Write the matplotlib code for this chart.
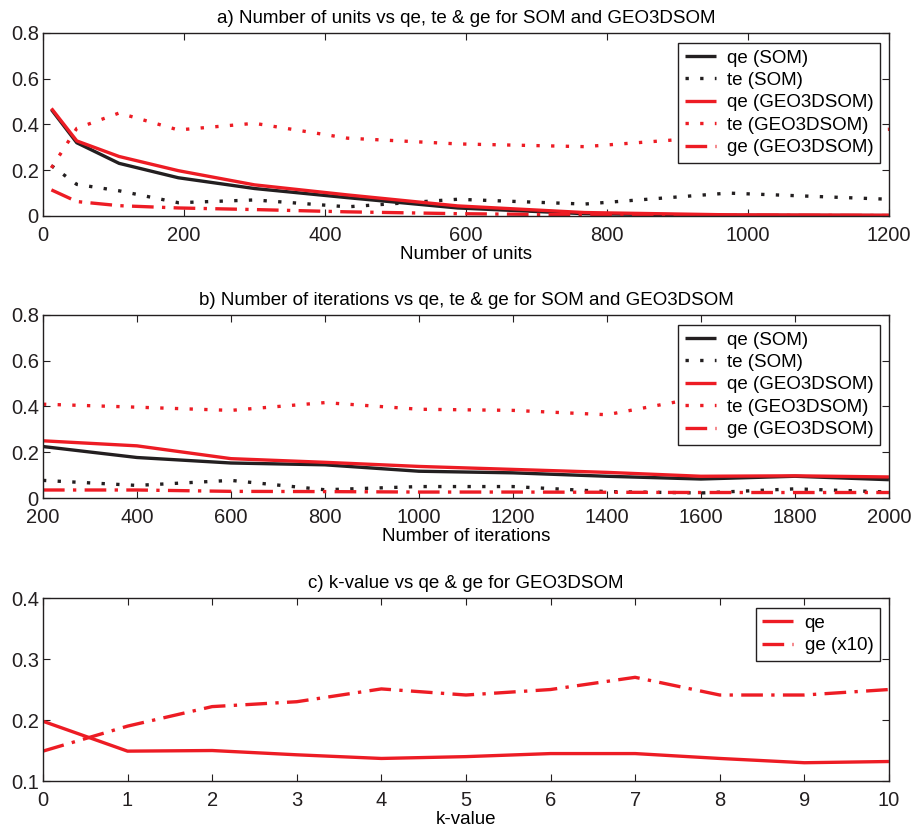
import matplotlib
matplotlib.use("Agg")
import matplotlib.pyplot as plt

plt.rcParams['font.family'] = ['Liberation Sans', 'DejaVu Sans']

RED = '#ED1C24'
BLACK = '#231F20'

# (a) map size sweep
units = [12, 48, 108, 192, 300, 432, 588, 768, 972, 1200]
a_qe_som = [0.465, 0.32, 0.23, 0.167, 0.12, 0.08, 0.035, 0.01, 0.003, 0.002]
a_te_som = [0.22, 0.138, 0.11, 0.058, 0.07, 0.04, 0.073, 0.052, 0.10, 0.073]
a_qe_geo = [0.47, 0.328, 0.26, 0.198, 0.136, 0.092, 0.044, 0.015, 0.005, 0.003]
a_te_geo = [0.21, 0.383, 0.45, 0.376, 0.405, 0.34, 0.315, 0.303, 0.35, 0.379]
a_ge_geo = [0.114, 0.063, 0.045, 0.035, 0.028, 0.018, 0.010, 0.005, 0.003, 0.002]

# (b) iteration sweep
iters = [200, 400, 600, 800, 1000, 1200, 1400, 1600, 1800, 2000]
b_qe_som = [0.225, 0.177, 0.153, 0.145, 0.117, 0.11, 0.095, 0.083, 0.095, 0.08]
b_te_som = [0.077, 0.055, 0.077, 0.036, 0.05, 0.05, 0.028, 0.022, 0.04, 0.026]
b_qe_geo = [0.25, 0.228, 0.172, 0.156, 0.138, 0.125, 0.112, 0.095, 0.097, 0.092]
b_te_geo = [0.41, 0.397, 0.383, 0.417, 0.388, 0.383, 0.364, 0.44, 0.42, 0.36]
b_ge_geo = [0.035, 0.035, 0.029, 0.028, 0.026, 0.026, 0.025, 0.024, 0.024, 0.024]

# (c) k-value sweep
kvals = [0, 1, 2, 3, 4, 5, 6, 7, 8, 9, 10]
c_qe = [0.198, 0.149, 0.150, 0.143, 0.137, 0.14, 0.145, 0.145, 0.137, 0.13, 0.132]
c_ge10 = [0.149, 0.19, 0.222, 0.23, 0.251, 0.241, 0.25, 0.27, 0.241, 0.241, 0.25]

LW = 2.4
DOT = (0, (1, 3.4))
DASHDOT = (0, (6.5, 2.5, 1, 2.5))
TICK_FS = 14.5
FS = 13.5

fig = plt.figure(figsize=(9.12, 8.3), dpi=100)
W = 0.9276
H = 0.2205
ax_a = fig.add_axes([0.0471, 0.7398, W, H])
ax_b = fig.add_axes([0.0471, 0.4000, W, H])
ax_c = fig.add_axes([0.0471, 0.0590, W, H])


def style(ax):
    ax.tick_params(direction='in', top=True, right=True, length=5, width=0.8,
                   labelsize=TICK_FS, colors=BLACK)
    ax.tick_params(axis='x', pad=7)
    ax.tick_params(axis='y', pad=3)
    for s in ax.spines.values():
        s.set_linewidth(1.0)
        s.set_color(BLACK)


def legend(ax, anchor):
    leg = ax.legend(loc='upper right', bbox_to_anchor=anchor, borderaxespad=0,
                    fontsize=FS, fancybox=False, framealpha=1, edgecolor=BLACK,
                    handlelength=1.65, handletextpad=0.6, labelspacing=0.28,
                    borderpad=0.35)
    leg.get_frame().set_linewidth(1.0)


def five_series(ax, x, qs, ts, qg, tg, gg):
    kw = dict(lw=LW, dash_capstyle='butt', solid_capstyle='butt')
    ax.plot(x, qs, color=BLACK, ls='-', label='qe (SOM)', **kw)
    ax.plot(x, ts, color=BLACK, ls=DOT, label='te (SOM)', **kw)
    ax.plot(x, qg, color=RED, ls='-', label='qe (GEO3DSOM)', **kw)
    ax.plot(x, tg, color=RED, ls=DOT, label='te (GEO3DSOM)', **kw)
    ax.plot(x, gg, color=RED, ls=DASHDOT, label='ge (GEO3DSOM)', **kw)


five_series(ax_a, units, a_qe_som, a_te_som, a_qe_geo, a_te_geo, a_ge_geo)
ax_a.set_xlim(0, 1200)
ax_a.set_ylim(0, 0.8)
ax_a.set_xticks([0, 200, 400, 600, 800, 1000, 1200])
ax_a.set_yticks([0, 0.2, 0.4, 0.6, 0.8])
ax_a.set_yticklabels(['0', '0.2', '0.4', '0.6', '0.8'])
ax_a.set_xlabel('Number of units', fontsize=FS, labelpad=1)
ax_a.set_title('a) Number of units vs qe, te & ge for SOM and GEO3DSOM', fontsize=FS, pad=7)
style(ax_a)
legend(ax_a, (0.9894, 0.9454))

five_series(ax_b, iters, b_qe_som, b_te_som, b_qe_geo, b_te_geo, b_ge_geo)
ax_b.set_xlim(200, 2000)
ax_b.set_ylim(0, 0.8)
ax_b.set_xticks(list(range(200, 2001, 200)))
ax_b.set_yticks([0, 0.2, 0.4, 0.6, 0.8])
ax_b.set_yticklabels(['0', '0.2', '0.4', '0.6', '0.8'])
ax_b.set_xlabel('Number of iterations', fontsize=FS, labelpad=1)
ax_b.set_title('b) Number of iterations vs qe, te & ge for SOM and GEO3DSOM', fontsize=FS, pad=7)
style(ax_b)
legend(ax_b, (0.9894, 0.9454))

kw = dict(lw=LW, dash_capstyle='butt', solid_capstyle='butt')
ax_c.plot(kvals, c_qe, color=RED, ls='-', label='qe', **kw)
ax_c.plot(kvals, c_ge10, color=RED, ls=DASHDOT, label='ge (x10)', **kw)
ax_c.set_xlim(0, 10)
ax_c.set_ylim(0.1, 0.4)
ax_c.set_xticks(kvals)
ax_c.set_yticks([0.1, 0.2, 0.3, 0.4])
ax_c.set_xlabel('k-value', fontsize=FS, labelpad=1)
ax_c.set_title('c) k-value vs qe & ge for GEO3DSOM', fontsize=FS, pad=7)
style(ax_c)
legend(ax_c, (0.9894, 0.9454))

fig.savefig('out.png', dpi=100)
